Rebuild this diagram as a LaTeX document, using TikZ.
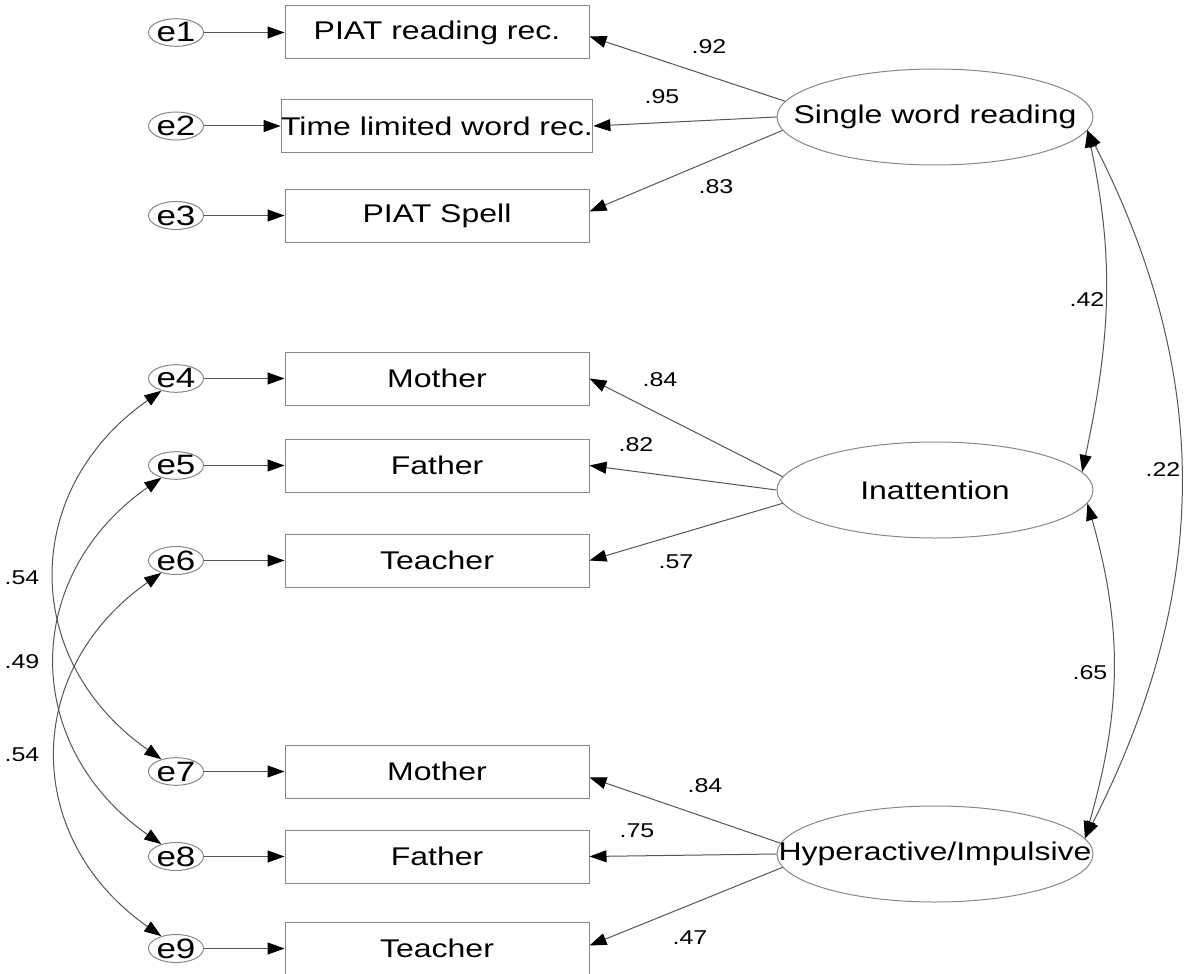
\documentclass[tikz,border=0pt]{standalone}
\usepackage{fontspec}
\setmainfont[FakeStretch=1.25]{Liberation Sans}
\usepackage{tikz}
\usetikzlibrary{shapes.geometric,arrows.meta}
\usepackage{color,xcolor}
\definecolor{boxgray}{RGB}{135,135,135}
\definecolor{pathgray}{RGB}{85,85,85}

\begin{document}
\begin{tikzpicture}[x=0.5pt, y=-0.5pt, font=\fontsize{12.8}{15}\selectfont,
        >={Triangle[length=8.5pt,width=6pt,color=black]},
        obs/.style={draw=boxgray, line width=0.5pt, minimum width=152pt, minimum height=26.5pt, inner sep=0pt},
        err/.style={draw=boxgray, line width=0.5pt, ellipse, minimum width=27.5pt, minimum height=13.5pt, inner sep=0pt, font=\fontsize{14}{16}\selectfont},
        lat/.style={draw=boxgray, line width=0.5pt, ellipse, minimum width=158pt, minimum height=48pt, inner sep=0pt},
        coef/.style={font=\fontsize{10}{12}\selectfont},
        load/.style={->, draw=pathgray, line width=0.5pt},
        cov/.style={<->, draw=pathgray, line width=0.5pt}]
        \useasboundingbox (0, 0) rectangle (1189, 974);
        \node[obs] (r1) at (437, 32.5) {PIAT reading rec.};
        \node[obs] (r2) at (437, 126) {Time limited word rec.};
        \node[obs] (r3) at (437, 215.5) {PIAT Spell};
        \node[obs] (ia1) at (437, 378.5) {Mother};
        \node[obs] (ia2) at (437, 465.5) {Father};
        \node[obs] (ia3) at (437, 560.5) {Teacher};
        \node[obs] (hi1) at (437, 771.5) {Mother};
        \node[obs] (hi2) at (437, 856.5) {Father};
        \node[obs] (hi3) at (437, 948.5) {Teacher};
        \node[err] (e1) at (176, 32.5) {e1};
        \node[err] (e2) at (176, 126) {e2};
        \node[err] (e3) at (176, 215.5) {e3};
        \node[err] (e4) at (176, 378.5) {e4};
        \node[err] (e5) at (176, 465.5) {e5};
        \node[err] (e6) at (176, 560.5) {e6};
        \node[err] (e7) at (176, 771.5) {e7};
        \node[err] (e8) at (176, 856.5) {e8};
        \node[err] (e9) at (176, 948.5) {e9};
        \node[lat, label=center:Single word reading] (swr) at (935, 117) {};
        \node[lat, label=center:Inattention] (inat) at (935, 490) {};
        \node[lat, label=center:Hyperactive/Impulsive] (hyp) at (935, 854) {};
        \draw[load] (e1) -- (r1);
        \draw[load] (e2) -- (r2);
        \draw[load] (e3) -- (r3);
        \draw[load] (e4) -- (ia1);
        \draw[load] (e5) -- (ia2);
        \draw[load] (e6) -- (ia3);
        \draw[load] (e7) -- (hi1);
        \draw[load] (e8) -- (hi2);
        \draw[load] (e9) -- (hi3);
        \draw[load] (swr.174) -- ([yshift=-2pt]r1.east);
        \draw[load] (swr.180) -- (r2.east);
        \draw[load] (swr.185) -- ([yshift=2pt]r3.east);
        \draw[load] (inat.175) -- (ia1.east);
        \draw[load] (inat.180) -- (ia2.east);
        \draw[load] (inat.185) -- (ia3.east);
        \draw[load] (hyp.176) -- ([yshift=-3pt]hi1.east);
        \draw[load] (hyp.180) -- (hi2.east);
        \draw[load] (hyp.185) -- ([yshift=1.5pt]hi3.east);
        \draw[cov] (swr.-5) to[out=-78, in=78] (inat.7);
        \draw[cov] (inat.-5) to[out=-74, in=74] (hyp.6);
        \draw[cov] (swr.-5) to[out=-63, in=63] (hyp.6);
        \draw[cov] (e4.220) to[out=215, in=145, looseness=1.2] (e7.140);
        \draw[cov] (e5.220) to[out=215, in=145, looseness=1.2] (e8.140);
        \draw[cov] (e6.220) to[out=215, in=145, looseness=1.2] (e9.140);
        \node[coef] (c1) at (709, 47) {.92};
        \node[coef] (c2) at (662, 97) {.95};
        \node[coef] (c3) at (716, 187) {.83};
        \node[coef] (c4) at (660, 380) {.84};
        \node[coef] (c5) at (636, 445) {.82};
        \node[coef] (c6) at (676, 562) {.57};
        \node[coef] (c7) at (705, 786) {.84};
        \node[coef] (c8) at (637, 831) {.75};
        \node[coef] (c9) at (690, 938) {.47};
        \node[coef] (k1) at (1087, 300) {.42};
        \node[coef] (k2) at (1090, 673) {.65};
        \node[coef] (k3) at (1163, 470) {.22};
        \node[coef] (k4) at (22, 578) {.54};
        \node[coef] (k5) at (22, 662) {.49};
        \node[coef] (k6) at (22, 755) {.54};
\end{tikzpicture}
\end{document}
